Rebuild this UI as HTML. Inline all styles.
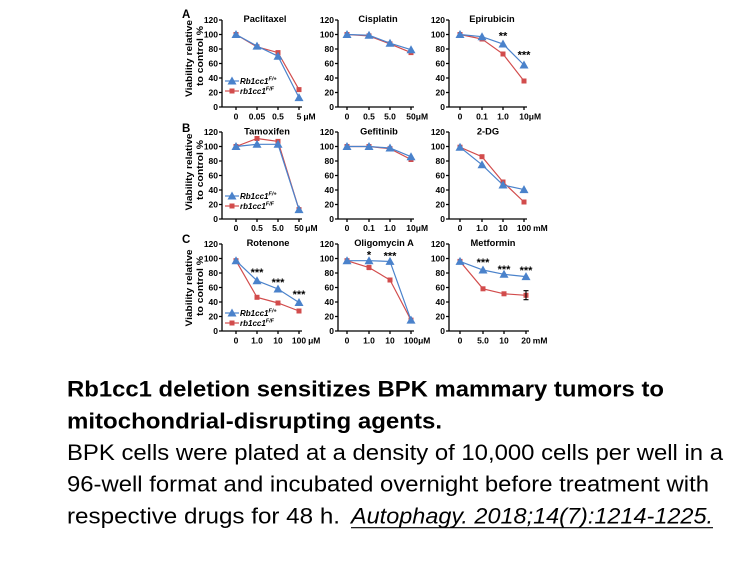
<!DOCTYPE html>
<html><head><meta charset="utf-8"><style>
html,body{margin:0;padding:0;background:#fff;}
svg{display:block;}
.ax{stroke:#000;stroke-width:1.3;fill:none;}
.tk{font-family:"Liberation Sans",sans-serif;font-weight:bold;font-size:8.5px;fill:#000;}
.tt{font-family:"Liberation Sans",sans-serif;font-weight:bold;font-size:9.3px;fill:#000;text-anchor:middle;}
.st{font-family:"Liberation Sans",sans-serif;font-weight:bold;font-size:11px;fill:#000;text-anchor:middle;}
.lg{font-family:"Liberation Sans",sans-serif;font-weight:bold;font-style:italic;font-size:8px;fill:#000;}
.yl{font-family:"Liberation Sans",sans-serif;font-weight:bold;font-size:8.8px;fill:#000;text-anchor:middle;}
.pl{font-family:"Liberation Sans",sans-serif;font-weight:bold;font-size:11.5px;fill:#000;}
.rl{stroke:#d24c4c;stroke-width:1.2;fill:none;}
.bl{stroke:#4a82cb;stroke-width:1.2;fill:none;}
.rm{fill:#d24c4c;}
.bm{fill:#4a82cb;}
.cap{font-family:"Liberation Sans",sans-serif;font-size:22px;fill:#000;}
</style></head><body>
<svg width="756" height="567" viewBox="0 0 756 567" xmlns="http://www.w3.org/2000/svg">
<rect width="756" height="567" fill="#fff"/>

<!-- panel letters -->
<text class="pl" x="182" y="18">A</text>
<text class="pl" x="182" y="132">B</text>
<text class="pl" x="182" y="243">C</text>

<!-- y-axis labels -->
<text class="yl" transform="translate(192,58.5) rotate(-90)" textLength="77" lengthAdjust="spacingAndGlyphs">Viability relative</text>
<text class="yl" transform="translate(203,56) rotate(-90)" textLength="60" lengthAdjust="spacingAndGlyphs">to control %</text>
<text class="yl" transform="translate(192,172) rotate(-90)" textLength="77" lengthAdjust="spacingAndGlyphs">Viability relative</text>
<text class="yl" transform="translate(203,170) rotate(-90)" textLength="60" lengthAdjust="spacingAndGlyphs">to control %</text>
<text class="yl" transform="translate(192,288) rotate(-90)" textLength="77" lengthAdjust="spacingAndGlyphs">Viability relative</text>
<text class="yl" transform="translate(203,286) rotate(-90)" textLength="60" lengthAdjust="spacingAndGlyphs">to control %</text>

<!-- ================= ROW A ================= -->
<!-- Paclitaxel -->
<g transform="translate(222,20)">
<path class="ax" d="M0 0V87H80M-3 0H0M-3 14.5H0M-3 29H0M-3 43.5H0M-3 58H0M-3 72.5H0M-3 87H0M14 87V90M35 87V90M56 87V90M77 87V90"/>
<g class="tk" text-anchor="end"><text x="-4" y="3">120</text><text x="-4" y="17.5">100</text><text x="-4" y="32">80</text><text x="-4" y="46.5">60</text><text x="-4" y="61">40</text><text x="-4" y="75.5">20</text><text x="-4" y="90">0</text></g>
<g class="tk" text-anchor="middle"><text x="14" y="99.5">0</text><text x="35" y="99.5">0.05</text><text x="56" y="99.5">0.5</text></g>
<text class="tk" x="74.6" y="99.5">5<tspan dx="2">μM</tspan></text>
<text class="tt" x="43" y="2">Paclitaxel</text>
<polyline class="rl" points="14,14.5 35,26.8 56,32.6 77,69.6"/>
<g class="rm"><rect x="11.5" y="12" width="5" height="5"/><rect x="32.5" y="24.3" width="5" height="5"/><rect x="53.5" y="30.1" width="5" height="5"/><rect x="74.5" y="67.1" width="5" height="5"/></g>
<polyline class="bl" points="14,14.5 35,26.1 56,36.25 77,77.6"/>
<g class="bm"><polygon points="14,10 9.5,18 18.5,18"/><polygon points="35,21.6 30.5,29.6 39.5,29.6"/><polygon points="56,31.75 51.5,39.75 60.5,39.75"/><polygon points="77,73.1 72.5,81.1 81.5,81.1"/></g>
<!-- legend -->
<line class="rl" x1="3" y1="71" x2="17" y2="71"/><rect class="rm" x="7.5" y="68.5" width="5" height="5"/>
<line class="bl" x1="3" y1="61" x2="17" y2="61"/><polygon class="bm" points="10,56.5 5.5,64.5 14.5,64.5"/>
<text class="lg" x="18" y="64">Rb1cc1<tspan font-size="5.5" dy="-3.5">F/+</tspan></text>
<text class="lg" x="18" y="74">rb1cc1<tspan font-size="5.5" dy="-3.5">F/F</tspan></text>
</g>

<!-- Cisplatin -->
<g transform="translate(338,20)">
<path class="ax" d="M0 0V87H76M-3 0H0M-3 14.5H0M-3 29H0M-3 43.5H0M-3 58H0M-3 72.5H0M-3 87H0M9 87V90M31 87V90M52 87V90M73 87V90"/>
<g class="tk" text-anchor="end"><text x="-4" y="3">120</text><text x="-4" y="17.5">100</text><text x="-4" y="32">80</text><text x="-4" y="46.5">60</text><text x="-4" y="61">40</text><text x="-4" y="75.5">20</text><text x="-4" y="90">0</text></g>
<g class="tk" text-anchor="middle"><text x="9" y="99.5">0</text><text x="31" y="99.5">0.5</text><text x="52" y="99.5">5.0</text></g>
<text class="tk" x="68.3" y="99.5">50μM</text>
<text class="tt" x="40" y="2">Cisplatin</text>
<polyline class="rl" points="9,14.5 31,15.9 52,23.9 73,32.6"/>
<g class="rm"><rect x="6.5" y="12" width="5" height="5"/><rect x="28.5" y="13.4" width="5" height="5"/><rect x="49.5" y="21.4" width="5" height="5"/><rect x="70.5" y="30.1" width="5" height="5"/></g>
<polyline class="bl" points="9,14.5 31,15.2 52,23.2 73,29.7"/>
<g class="bm"><polygon points="9,10 4.5,18 13.5,18"/><polygon points="31,10.7 26.5,18.7 35.5,18.7"/><polygon points="52,18.7 47.5,26.7 56.5,26.7"/><polygon points="73,25.2 68.5,33.2 77.5,33.2"/></g>
</g>

<!-- Epirubicin -->
<g transform="translate(449,20)">
<path class="ax" d="M0 0V87H78M-3 0H0M-3 14.5H0M-3 29H0M-3 43.5H0M-3 58H0M-3 72.5H0M-3 87H0M11 87V90M33 87V90M54 87V90M75 87V90"/>
<g class="tk" text-anchor="end"><text x="-4" y="3">120</text><text x="-4" y="17.5">100</text><text x="-4" y="32">80</text><text x="-4" y="46.5">60</text><text x="-4" y="61">40</text><text x="-4" y="75.5">20</text><text x="-4" y="90">0</text></g>
<g class="tk" text-anchor="middle"><text x="11" y="99.5">0</text><text x="33" y="99.5">0.1</text><text x="54" y="99.5">1.0</text></g>
<text class="tk" x="70.3" y="99.5">10μM</text>
<text class="tt" x="43" y="2">Epirubicin</text>
<polyline class="rl" points="11,14.5 33,19 54,34 75,61"/>
<g class="rm"><rect x="8.5" y="12" width="5" height="5"/><rect x="30.5" y="16.5" width="5" height="5"/><rect x="51.5" y="31.5" width="5" height="5"/><rect x="72.5" y="58.5" width="5" height="5"/></g>
<polyline class="bl" points="11,14.5 33,16.7 54,24 75,45"/>
<g class="bm"><polygon points="11,10 6.5,18 15.5,18"/><polygon points="33,12.2 28.5,20.2 37.5,20.2"/><polygon points="54,19.5 49.5,27.5 58.5,27.5"/><polygon points="75,40.5 70.5,48.5 79.5,48.5"/></g>
<text class="st" x="54" y="19.5">**</text>
<text class="st" x="75" y="38.5">***</text>
</g>

<!-- ================= ROW B ================= -->
<!-- Tamoxifen -->
<g transform="translate(222,132)">
<path class="ax" d="M0 0V87H80M-3 0H0M-3 14.5H0M-3 29H0M-3 43.5H0M-3 58H0M-3 72.5H0M-3 87H0M14 87V90M35 87V90M56 87V90M77 87V90"/>
<g class="tk" text-anchor="end"><text x="-4" y="3">120</text><text x="-4" y="17.5">100</text><text x="-4" y="32">80</text><text x="-4" y="46.5">60</text><text x="-4" y="61">40</text><text x="-4" y="75.5">20</text><text x="-4" y="90">0</text></g>
<g class="tk" text-anchor="middle"><text x="14" y="99">0</text><text x="35" y="99">0.5</text><text x="56" y="99">5.0</text></g>
<text class="tk" x="72.3" y="99">50<tspan dx="1.5">μM</tspan></text>
<text class="tt" x="45" y="2.5">Tamoxifen</text>
<polyline class="rl" points="14,14.5 35,6.5 56,9.4 77,77.6"/>
<g class="rm"><rect x="11.5" y="12" width="5" height="5"/><rect x="32.5" y="4" width="5" height="5"/><rect x="53.5" y="6.9" width="5" height="5"/><rect x="74.5" y="75.1" width="5" height="5"/></g>
<polyline class="bl" points="14,14.5 35,12.3 56,12.3 77,77.6"/>
<g class="bm"><polygon points="14,10 9.5,18 18.5,18"/><polygon points="35,7.8 30.5,15.8 39.5,15.8"/><polygon points="56,7.8 51.5,15.8 60.5,15.8"/><polygon points="77,73.1 72.5,81.1 81.5,81.1"/></g>
<line class="rl" x1="3" y1="74" x2="17" y2="74"/><rect class="rm" x="7.5" y="71.5" width="5" height="5"/>
<line class="bl" x1="3" y1="64" x2="17" y2="64"/><polygon class="bm" points="10,59.5 5.5,67.5 14.5,67.5"/>
<text class="lg" x="18" y="67">Rb1cc1<tspan font-size="5.5" dy="-3.5">F/+</tspan></text>
<text class="lg" x="18" y="77">rb1cc1<tspan font-size="5.5" dy="-3.5">F/F</tspan></text>
</g>

<!-- Gefitinib -->
<g transform="translate(338,132)">
<path class="ax" d="M0 0V87H76M-3 0H0M-3 14.5H0M-3 29H0M-3 43.5H0M-3 58H0M-3 72.5H0M-3 87H0M9 87V90M31 87V90M52 87V90M73 87V90"/>
<g class="tk" text-anchor="end"><text x="-4" y="3">120</text><text x="-4" y="17.5">100</text><text x="-4" y="32">80</text><text x="-4" y="46.5">60</text><text x="-4" y="61">40</text><text x="-4" y="75.5">20</text><text x="-4" y="90">0</text></g>
<g class="tk" text-anchor="middle"><text x="9" y="99">0</text><text x="31" y="99">0.1</text><text x="52" y="99">1.0</text></g>
<text class="tk" x="68.3" y="99">10μM</text>
<text class="tt" x="41" y="2.5">Gefitinib</text>
<polyline class="rl" points="9,14.5 31,14.5 52,16.7 73,27.5"/>
<g class="rm"><rect x="6.5" y="12" width="5" height="5"/><rect x="28.5" y="12" width="5" height="5"/><rect x="49.5" y="14.2" width="5" height="5"/><rect x="70.5" y="25" width="5" height="5"/></g>
<polyline class="bl" points="9,14.5 31,14.5 52,16 73,24.7"/>
<g class="bm"><polygon points="9,10 4.5,18 13.5,18"/><polygon points="31,10 26.5,18 35.5,18"/><polygon points="52,11.5 47.5,19.5 56.5,19.5"/><polygon points="73,20.2 68.5,28.2 77.5,28.2"/></g>
</g>

<!-- 2-DG -->
<g transform="translate(449,132)">
<path class="ax" d="M0 0V87H78M-3 0H0M-3 14.5H0M-3 29H0M-3 43.5H0M-3 58H0M-3 72.5H0M-3 87H0M11 87V90M33 87V90M54 87V90M75 87V90"/>
<g class="tk" text-anchor="end"><text x="-4" y="3">120</text><text x="-4" y="17.5">100</text><text x="-4" y="32">80</text><text x="-4" y="46.5">60</text><text x="-4" y="61">40</text><text x="-4" y="75.5">20</text><text x="-4" y="90">0</text></g>
<g class="tk" text-anchor="middle"><text x="11" y="99">0</text><text x="33" y="99">1.0</text><text x="54" y="99">10</text></g>
<text class="tk" x="67.9" y="99">100<tspan dx="2">mM</tspan></text>
<text class="tt" x="39" y="2.5">2-DG</text>
<polyline class="rl" points="11,15.2 33,24.7 54,50 75,70"/>
<g class="rm"><rect x="8.5" y="12.7" width="5" height="5"/><rect x="30.5" y="22.2" width="5" height="5"/><rect x="51.5" y="47.5" width="5" height="5"/><rect x="72.5" y="67.5" width="5" height="5"/></g>
<polyline class="bl" points="11,15.2 33,32.8 54,53 75,57.6"/>
<g class="bm"><polygon points="11,10.7 6.5,18.7 15.5,18.7"/><polygon points="33,28.3 28.5,36.3 37.5,36.3"/><polygon points="54,48.5 49.5,56.5 58.5,56.5"/><polygon points="75,53.1 70.5,61.1 79.5,61.1"/></g>
</g>

<!-- ================= ROW C ================= -->
<!-- Rotenone -->
<g transform="translate(222,244)">
<path class="ax" d="M0 0V87H80M-3 0H0M-3 14.5H0M-3 29H0M-3 43.5H0M-3 58H0M-3 72.5H0M-3 87H0M14 87V90M35 87V90M56 87V90M77 87V90"/>
<g class="tk" text-anchor="end"><text x="-4" y="3">120</text><text x="-4" y="17.5">100</text><text x="-4" y="32">80</text><text x="-4" y="46.5">60</text><text x="-4" y="61">40</text><text x="-4" y="75.5">20</text><text x="-4" y="90">0</text></g>
<g class="tk" text-anchor="middle"><text x="14" y="99.5">0</text><text x="35" y="99.5">1.0</text><text x="56" y="99.5">10</text></g>
<text class="tk" x="69.9" y="99.5">100<tspan dx="2">μM</tspan></text>
<text class="tt" x="46" y="2">Rotenone</text>
<polyline class="rl" points="14,16.7 35,53.3 56,59 77,67"/>
<g class="rm"><rect x="11.5" y="14.2" width="5" height="5"/><rect x="32.5" y="50.8" width="5" height="5"/><rect x="53.5" y="56.5" width="5" height="5"/><rect x="74.5" y="64.5" width="5" height="5"/></g>
<polyline class="bl" points="14,16.7 35,36.7 56,45 77,58.5"/>
<g class="bm"><polygon points="14,12.2 9.5,20.2 18.5,20.2"/><polygon points="35,32.2 30.5,40.2 39.5,40.2"/><polygon points="56,40.5 51.5,48.5 60.5,48.5"/><polygon points="77,54 72.5,62 81.5,62"/></g>
<text class="st" x="35" y="32.2">***</text>
<text class="st" x="56" y="42.2">***</text>
<text class="st" x="77" y="53.8">***</text>
<line class="rl" x1="3" y1="79" x2="17" y2="79"/><rect class="rm" x="7.5" y="76.5" width="5" height="5"/>
<line class="bl" x1="3" y1="69" x2="17" y2="69"/><polygon class="bm" points="10,64.5 5.5,72.5 14.5,72.5"/>
<text class="lg" x="18" y="72">Rb1cc1<tspan font-size="5.5" dy="-3.5">F/+</tspan></text>
<text class="lg" x="18" y="82">rb1cc1<tspan font-size="5.5" dy="-3.5">F/F</tspan></text>
</g>

<!-- Oligomycin A -->
<g transform="translate(338,244)">
<path class="ax" d="M0 0V87H76M-3 0H0M-3 14.5H0M-3 29H0M-3 43.5H0M-3 58H0M-3 72.5H0M-3 87H0M9 87V90M31 87V90M52 87V90M73 87V90"/>
<g class="tk" text-anchor="end"><text x="-4" y="3">120</text><text x="-4" y="17.5">100</text><text x="-4" y="32">80</text><text x="-4" y="46.5">60</text><text x="-4" y="61">40</text><text x="-4" y="75.5">20</text><text x="-4" y="90">0</text></g>
<g class="tk" text-anchor="middle"><text x="9" y="99.5">0</text><text x="31" y="99.5">1.0</text><text x="52" y="99.5">10</text></g>
<text class="tk" x="65.9" y="99.5">100μM</text>
<text class="tt" x="46" y="2">Oligomycin A</text>
<polyline class="rl" points="9,16.7 31,23.5 52,36 73,76.1"/>
<path class="rl" d="M31 21.5V25.5M29 21.5H33M29 25.5H33"/>
<g class="rm"><rect x="6.5" y="14.2" width="5" height="5"/><rect x="28.5" y="21" width="5" height="5"/><rect x="49.5" y="33.5" width="5" height="5"/><rect x="70.5" y="73.6" width="5" height="5"/></g>
<polyline class="bl" points="9,16.7 31,16.7 52,17.4 73,76.1"/>
<g class="bm"><polygon points="9,12.2 4.5,20.2 13.5,20.2"/><polygon points="31,12.2 26.5,20.2 35.5,20.2"/><polygon points="52,12.9 47.5,20.9 56.5,20.9"/><polygon points="73,71.6 68.5,79.6 77.5,79.6"/></g>
<text class="st" x="31" y="14.5">*</text>
<text class="st" x="52" y="15.5">***</text>
</g>

<!-- Metformin -->
<g transform="translate(449,244)">
<path class="ax" d="M0 0V87H80M-3 0H0M-3 14.5H0M-3 29H0M-3 43.5H0M-3 58H0M-3 72.5H0M-3 87H0M11 87V90M34 87V90M55 87V90M77 87V90"/>
<g class="tk" text-anchor="end"><text x="-4" y="3">120</text><text x="-4" y="17.5">100</text><text x="-4" y="32">80</text><text x="-4" y="46.5">60</text><text x="-4" y="61">40</text><text x="-4" y="75.5">20</text><text x="-4" y="90">0</text></g>
<g class="tk" text-anchor="middle"><text x="11" y="99.5">0</text><text x="34" y="99.5">5.0</text><text x="55" y="99.5">10</text></g>
<text class="tk" x="72.3" y="99.5">20<tspan dx="2">mM</tspan></text>
<text class="tt" x="44" y="2">Metformin</text>
<polyline class="rl" points="11,17.4 34,44.8 55,49.8 77,51.3"/>
<g class="rm"><rect x="8.5" y="14.9" width="5" height="5"/><rect x="31.5" y="42.3" width="5" height="5"/><rect x="52.5" y="47.3" width="5" height="5"/><rect x="74.5" y="48.8" width="5" height="5"/></g>
<polyline class="bl" points="11,17.4 34,26 55,30.3 77,32.6"/>
<g class="bm"><polygon points="11,12.9 6.5,20.9 15.5,20.9"/><polygon points="34,21.5 29.5,29.5 38.5,29.5"/><polygon points="55,25.8 50.5,33.8 59.5,33.8"/><polygon points="77,28.1 72.5,36.1 81.5,36.1"/></g>
<path d="M77 46.7V55.7M74.5 46.7H79.5M74.5 55.7H79.5" stroke="#000" stroke-width="1.1" fill="none"/>
<text class="st" x="34" y="22.2">***</text>
<text class="st" x="55" y="28.8">***</text>
<text class="st" x="77" y="29.8">***</text>
</g>

<!-- ================= CAPTION ================= -->
<text class="cap" font-weight="bold" x="67" y="396.7" textLength="597" lengthAdjust="spacingAndGlyphs">Rb1cc1 deletion sensitizes BPK mammary tumors to</text>
<text class="cap" font-weight="bold" x="67" y="428.3" textLength="375" lengthAdjust="spacingAndGlyphs">mitochondrial-disrupting agents.</text>
<text class="cap" x="67" y="460" textLength="656" lengthAdjust="spacingAndGlyphs">BPK cells were plated at a density of 10,000 cells per well in a</text>
<text class="cap" x="67" y="491.7" textLength="642" lengthAdjust="spacingAndGlyphs">96-well format and incubated overnight before treatment with</text>
<text class="cap" x="67" y="523.3" textLength="273" lengthAdjust="spacingAndGlyphs">respective drugs for 48 h.</text>
<text class="cap" font-style="italic" x="351" y="523.3" textLength="362" lengthAdjust="spacingAndGlyphs">Autophagy. 2018;14(7):1214-1225.</text>
<line x1="351" y1="527.7" x2="713" y2="527.7" stroke="#000" stroke-width="1.2"/>
</svg>
</body></html>
